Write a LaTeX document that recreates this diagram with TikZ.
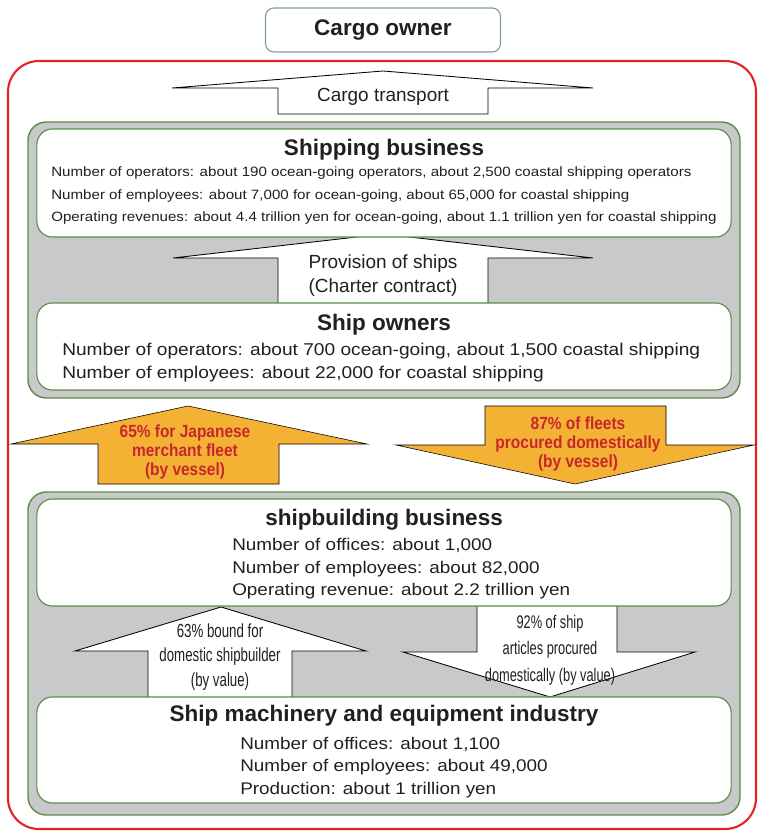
\documentclass[tikz,border=0pt]{standalone}
\usepackage{fontspec}
\setmainfont{Liberation Sans}
\newfontfamily\condfont[FakeStretch=0.88]{Liberation Sans}
\newfontfamily\narrowfont[FakeStretch=0.7]{Liberation Sans}
\newfontfamily\widefont[FakeStretch=1.12]{Liberation Sans}
\usetikzlibrary{positioning}

\definecolor{framered}{RGB}{228,35,40}
\definecolor{groupgreen}{RGB}{92,140,72}
\definecolor{groupgray}{RGB}{200,201,203}
\definecolor{ownerline}{RGB}{128,158,168}
\definecolor{fleetorange}{RGB}{243,178,52}
\definecolor{fleetred}{RGB}{200,38,46}
\definecolor{inkgray}{RGB}{35,31,32}

\tikzset{
  group/.style={draw=groupgreen, line width=1pt, fill=groupgray, rounded corners=13pt},
  panel/.style={draw=groupgreen, line width=0.8pt, fill=white, rounded corners=11pt,
                minimum width=17.35cm},
  heading/.style={text=inkgray, inner sep=0pt, font=\bfseries\fontsize{16}{19}\selectfont},
  facts/.style={text=inkgray, inner sep=0pt, align=left, anchor=west},
  flow/.style={draw=black, line width=0.6pt, fill=white, line join=miter},
  flowtext/.style={text=inkgray, inner sep=0pt, align=center},
  fleet/.style={fill=fleetorange},
  fleettext/.style={text=fleetred, inner sep=0pt, align=center,
                    font=\condfont\bfseries\fontsize{12.5}{13.2}\selectfont}
}

\begin{document}
\begin{tikzpicture}[x=0.025cm,y=-0.025cm]
\useasboundingbox (0,0) rectangle (758,833);

\draw[framered, line width=1.5pt, rounded corners=22pt] (8,61) rectangle (756,829);
\node[draw=ownerline, line width=0.8pt, rounded corners=6pt, fill=white,
      minimum width=5.875cm, minimum height=1.1cm, heading] (owner) at (383,30) {Cargo owner};

\draw[flow] (383,71) -- (593,88) -- (488,88) -- (488,114) -- (278,114) -- (278,88) -- (172,88) -- cycle;
\node[flowtext, font=\fontsize{13.5}{17}\selectfont] (transport) at (383,97) {Cargo transport};

\draw[group] (28,122) rectangle (740,398);
\draw[group] (28,492) rectangle (740,815);

\draw[flow] (383,234) -- (593,258) -- (488,258) -- (488,305) -- (278,305) -- (278,258) -- (173,258) -- cycle;

\begin{scope}[every node/.style={panel}]
    \node[minimum height=2.7cm] (shipping) at (384,183) {};
    \node[minimum height=2.175cm] (owners) at (384,346.5) {};
\end{scope}

\node[flowtext, font=\fontsize{13.5}{17}\selectfont] (provision) at (383,276)
    {Provision of ships\\(Charter contract)};

\node[heading] (shippingtitle) at (384,150) {Shipping business};
\node[facts, font=\widefont\fontsize{9.6}{16}\selectfont] (shippingfacts) at (51,196)
    {Number of operators: about 190 ocean-going operators, about 2,500 coastal shipping operators\\
     Number of employees: about 7,000 for ocean-going, about 65,000 for coastal shipping\\
     Operating revenues: about 4.4 trillion yen for ocean-going, about 1.1 trillion yen for coastal shipping};

\node[heading] (ownerstitle) at (384,325) {Ship owners};
\node[facts, font=\widefont\fontsize{12.15}{16.3}\selectfont] (ownersfacts) at (62,363)
    {Number of operators: about 700 ocean-going, about 1,500 coastal shipping\\
     Number of employees: about 22,000 for coastal shipping};

\draw[fleet] (188,406) -- (367,444) -- (279,444) -- (279,484) -- (98,484) -- (98,444) -- (11,444) -- cycle;
\node[fleettext] (japanfleet) at (185,452) {65\% for Japanese\\merchant fleet\\(by vessel)};
\draw[fleet] (485,406) -- (666,406) -- (666,445) -- (754,445) -- (575,484) -- (396,445) -- (485,445) -- cycle;
\node[fleettext] (domesticfleet) at (578,444) {87\% of fleets\\procured domestically\\(by vessel)};

\draw[flow] (221,607) -- (366,651) -- (292,651) -- (292,699) -- (148,699) -- (148,651) -- (75,651) -- cycle;
\draw[flow] (477,604) -- (617,604) -- (617,652) -- (695,652) -- (550,697) -- (403,652) -- (477,652) -- cycle;

\begin{scope}[every node/.style={panel}]
    \node[minimum height=2.675cm] (shipbuilding) at (384,552.5) {};
    \node[minimum height=2.65cm] (machinery) at (384,750) {};
\end{scope}

\node[flowtext, font=\narrowfont\fontsize{13.5}{17.7}\selectfont] (boundshare) at (220,657)
    {63\% bound for\\domestic shipbuilder\\(by value)};
\node[flowtext, font=\narrowfont\fontsize{13}{19}\selectfont] (articleshare) at (550,650)
    {92\% of ship\\articles procured\\domestically (by value)};

\node[heading] (shipbuildingtitle) at (384,520) {shipbuilding business};
\node[facts, font=\widefont\fontsize{12}{16}\selectfont] (shipbuildingfacts) at (232,569)
    {Number of offices: about 1,000\\
     Number of employees: about 82,000\\
     Operating revenue: about 2.2 trillion yen};

\node[heading] (machinerytitle) at (384,716) {Ship machinery and equipment industry};
\node[facts, font=\widefont\fontsize{12}{16}\selectfont] (machineryfacts) at (240,767.5)
    {Number of offices: about 1,100\\
     Number of employees: about 49,000\\
     Production: about 1 trillion yen};
\end{tikzpicture}
\end{document}
